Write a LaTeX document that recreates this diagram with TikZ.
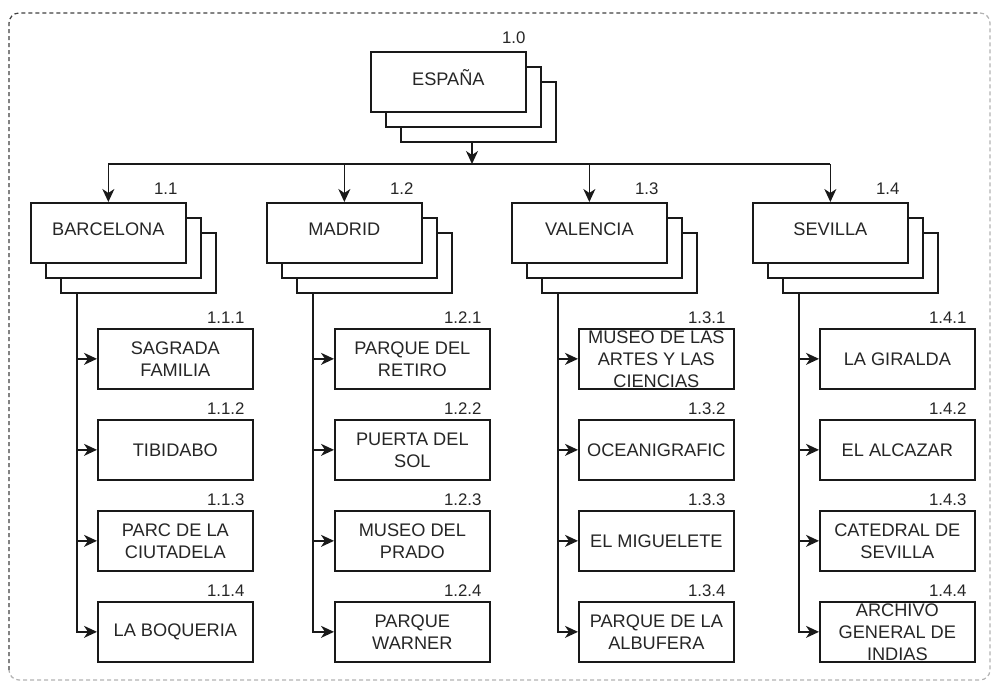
\documentclass[tikz,border=0pt]{standalone}
\usepackage{fontspec}
\setmainfont{Liberation Sans}
\usetikzlibrary{arrows.meta}
\newcommand\stackbox[5]{%
  \node[box] (#1c) at ({#2+30},{#3+30}) {};
  \node[box] (#1b) at ({#2+15},{#3+15}) {};
  \node[box] (#1) at (#2,#3) {};
  \node[txt] (#1t) at ([yshift=4pt]#1.center) {#4};
  \node[num] (#1n) at ([xshift=-9pt,yshift=13pt]#1.north east) {#5};
}
\newcommand\myleafbox[5]{%
  \node[box] (#1) at (#2,#3) {};
  \node[txt] (#1t) at (#1.center) {#4};
  \node[num] (#1n) at ([xshift=-9pt,yshift=10.5pt]#1.north east) {#5};
}
\begin{document}
\begin{tikzpicture}[x=1pt,y=-1pt,
  box/.style={draw=black!90, line width=1.7pt, fill=white, minimum width=155pt, minimum height=60pt, inner sep=0pt, anchor=north west},
  txt/.style={font=\fontsize{18.2}{22}\selectfont, text=black!85, align=center, inner sep=0pt},
  num/.style={font=\fontsize{16.8}{18}\selectfont, text=black!85, inner sep=0pt, anchor=east},
  conn/.style={draw=black!90, line width=1.7pt},
  arr/.style={conn, -{Stealth[length=13pt,width=12pt,inset=4pt]}},
  bord/.style={line width=1.2pt, dash pattern=on 4pt off 3pt, rounded corners=10pt},
]
\useasboundingbox (0,0) rectangle (993,686);
% outer frame
\draw[bord, black!75] (9,670) -- (9,13) -- (980,13);
\draw[bord, black!30] (980,13) -- (990,13) -- (990,680) -- (9,680) -- (9,670);

% root
\node[box] (espc) at (400,81) {};
\node[box] (espb) at (385,66) {};
\node[box] (esp) at (370,51) {};
\node[txt] (espt) at ([yshift=4pt]esp.center) {ESPAÑA};
\node[num] (espn) at ([xshift=-1pt,yshift=13pt]esp.north east) {1.0};

% cities
\stackbox{bar}{30}{202}{BARCELONA}{1.1}
\stackbox{mad}{266}{202}{MADRID}{1.2}
\stackbox{val}{511}{202}{VALENCIA}{1.3}
\stackbox{sev}{752}{202}{SEVILLA}{1.4}

\coordinate (hub) at (472,164);
\draw[arr] (hub |- espc.south) -- (hub);
\draw[conn] (hub -| bar.north) -- (hub -| sev.north);
\foreach \c in {bar,mad,val,sev} \draw[arr] (hub -| \c.north) -- (\c.north);

% leaves
\myleafbox{b1}{97}{328}{SAGRADA\\FAMILIA}{1.1.1}
\myleafbox{b2}{97}{419}{TIBIDABO}{1.1.2}
\myleafbox{b3}{97}{510}{PARC DE LA\\CIUTADELA}{1.1.3}
\myleafbox{b4}{97}{601}{LA BOQUERIA}{1.1.4}

\myleafbox{m1}{334}{328}{PARQUE DEL\\RETIRO}{1.2.1}
\myleafbox{m2}{334}{419}{PUERTA DEL\\SOL}{1.2.2}
\myleafbox{m3}{334}{510}{MUSEO DEL\\PRADO}{1.2.3}
\myleafbox{m4}{334}{601}{PARQUE\\WARNER}{1.2.4}

\myleafbox{v1}{578}{328}{MUSEO DE LAS\\ARTES Y LAS\\CIENCIAS}{1.3.1}
\myleafbox{v2}{578}{419}{OCEANIGRAFIC}{1.3.2}
\myleafbox{v3}{578}{510}{EL MIGUELETE}{1.3.3}
\myleafbox{v4}{578}{601}{PARQUE DE LA\\ALBUFERA}{1.3.4}

\myleafbox{s1}{819}{328}{LA GIRALDA}{1.4.1}
\myleafbox{s2}{819}{419}{EL ALCAZAR}{1.4.2}
\myleafbox{s3}{819}{510}{CATEDRAL DE\\SEVILLA}{1.4.3}
\myleafbox{s4}{819}{601}{ARCHIVO\\GENERAL DE\\INDIAS}{1.4.4}

\foreach \p/\q in {bar/b,mad/m,val/v,sev/s}
  \foreach \i in {1,2,3,4}
    \draw[arr] ([xshift=17pt]\p c.south west) |- (\q\i.west);
\end{tikzpicture}
\end{document}
